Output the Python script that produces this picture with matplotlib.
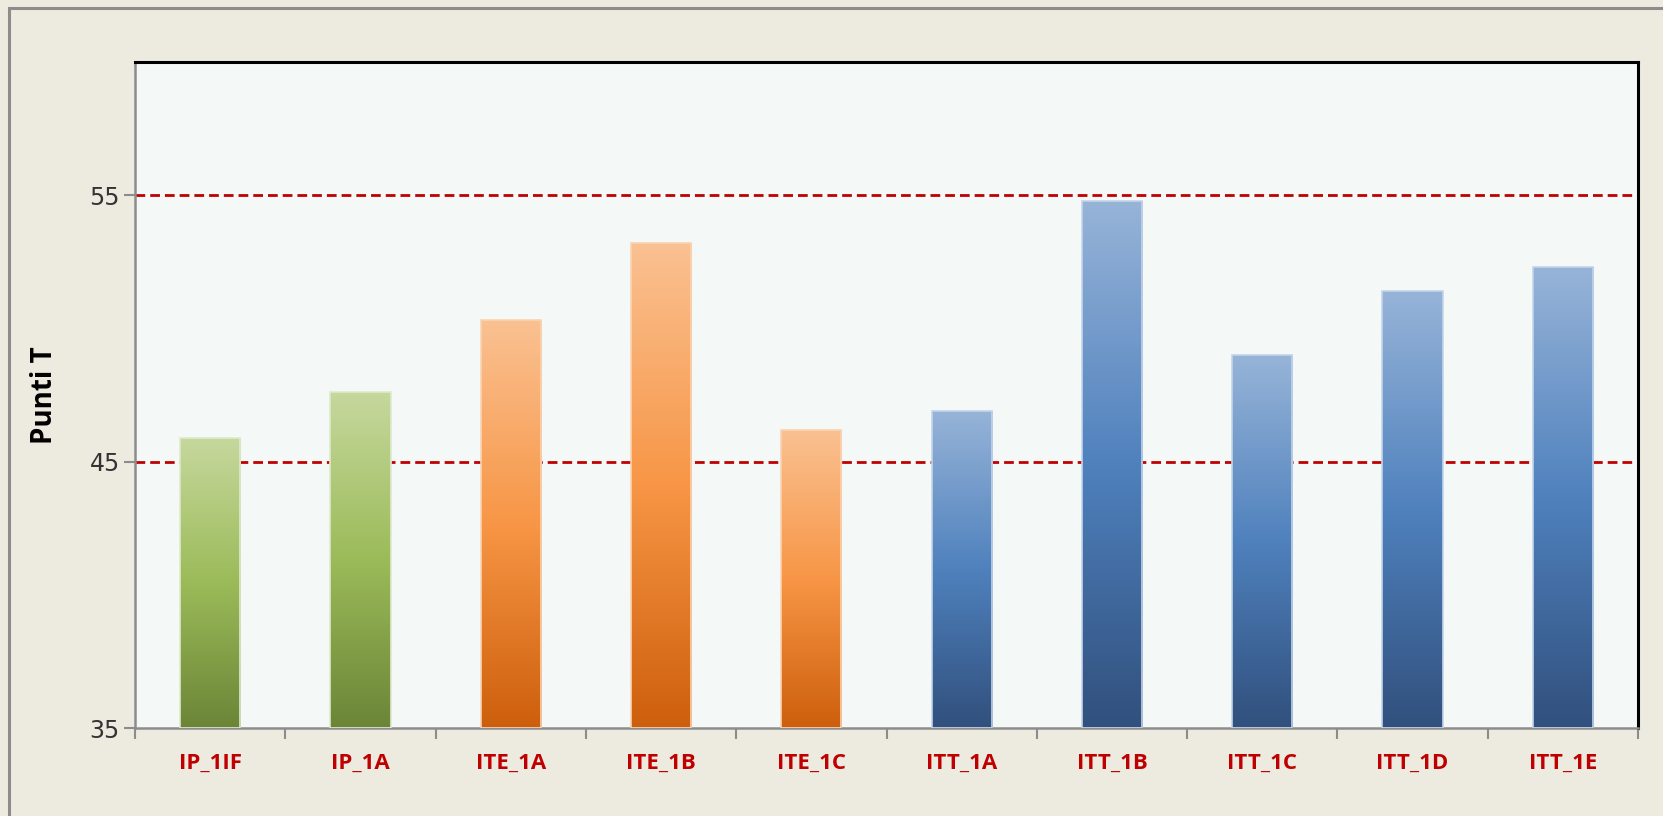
import numpy as np
import matplotlib.pyplot as plt
from matplotlib.colors import LinearSegmentedColormap
from matplotlib.patches import Rectangle

# classes and T scores
classi = ["IP_1IF", "IP_1A", "ITE_1A", "ITE_1B", "ITE_1C",
          "ITT_1A", "ITT_1B", "ITT_1C", "ITT_1D", "ITT_1E"]
punti = [45.9, 47.6, 50.3, 53.2, 46.2, 46.9, 54.8, 49.0, 51.4, 52.3]
gruppo = ["green", "green", "orange", "orange", "orange",
          "blue", "blue", "blue", "blue", "blue"]
soglie = [45, 55]
y_ticks = [35, 45, 55]

# excel style gradients: light top, base middle, dark bottom
gradienti = {
    "green": ["#6b8537", "#9bbb59", "#c6d89d"],
    "orange": ["#cd5f0c", "#f79646", "#fac192"],
    "blue": ["#31507d", "#4f81bd", "#97b4d8"],
}
bordi = {"green": "#dfe9cc", "orange": "#fbd3b2", "blue": "#c3d4ea"}

fig = plt.figure(figsize=(16.63, 8.16), dpi=100)
fig.patch.set_facecolor("#edeae0")
fig.patches.append(Rectangle((9 / 1663, -0.1), 1.2, 1.1 - 8 / 816,
                             transform=fig.transFigure, fill=False,
                             edgecolor="#8c8c8c", linewidth=2.2))

ax = fig.add_axes([135 / 1663, 1 - 728 / 816, (1638 - 135) / 1663, (728 - 62) / 816])
ax.set_facecolor("#f4f8f7")

x = np.arange(len(classi))
bars = ax.bar(x, np.array(punti) - 35, bottom=35, width=0.4,
              color="none", edgecolor="none", zorder=3)

grad = np.linspace(0, 1, 256).reshape(-1, 1)
for b, g in zip(bars, gruppo):
    cmap = LinearSegmentedColormap.from_list(g, gradienti[g])
    x0, y0 = b.get_x(), b.get_y()
    w, h = b.get_width(), b.get_height()
    im = ax.imshow(grad, cmap=cmap, origin="lower", aspect="auto",
                   extent=[x0, x0 + w, y0, y0 + h], zorder=2)
    im.set_clip_path(b)
    ax.add_patch(Rectangle((x0, y0), w, h, fill=False,
                           edgecolor=bordi[g], linewidth=1.2, zorder=4))

for s in soglie:
    ax.axhline(s, color="#c00000", linestyle=(0, (3.5, 1.8)), linewidth=2.0, zorder=1)

ax.set_xlim(-0.5, len(classi) - 0.5)
ax.set_ylim(35, 60)
ax.set_yticks(y_ticks)
ax.set_yticklabels([str(v) for v in y_ticks], fontsize=17, color="#333333",
                   family="DejaVu Sans")
ax.set_xticks(x)
ax.set_xticklabels(classi, fontsize=16, fontweight="bold", color="#c00000",
                   family="Open Sans")
ax.tick_params(axis="x", length=0, pad=18)
ax.set_xticks(np.arange(-0.5, len(classi), 1), minor=True)
ax.tick_params(axis="x", which="minor", length=8, width=1.5, color="#8c8c8c")
ax.tick_params(axis="y", length=8, width=1.5, color="#8c8c8c", pad=3)

ax.set_ylabel("Punti T", fontsize=20, fontweight="bold", labelpad=22,
              family="Open Sans")

for side in ["top", "right"]:
    ax.spines[side].set_color("black")
    ax.spines[side].set_linewidth(2.2)
for side in ["left", "bottom"]:
    ax.spines[side].set_color("#8c8c8c")
    ax.spines[side].set_linewidth(1.8)

fig.savefig("out.png", dpi=100, facecolor=fig.get_facecolor())
